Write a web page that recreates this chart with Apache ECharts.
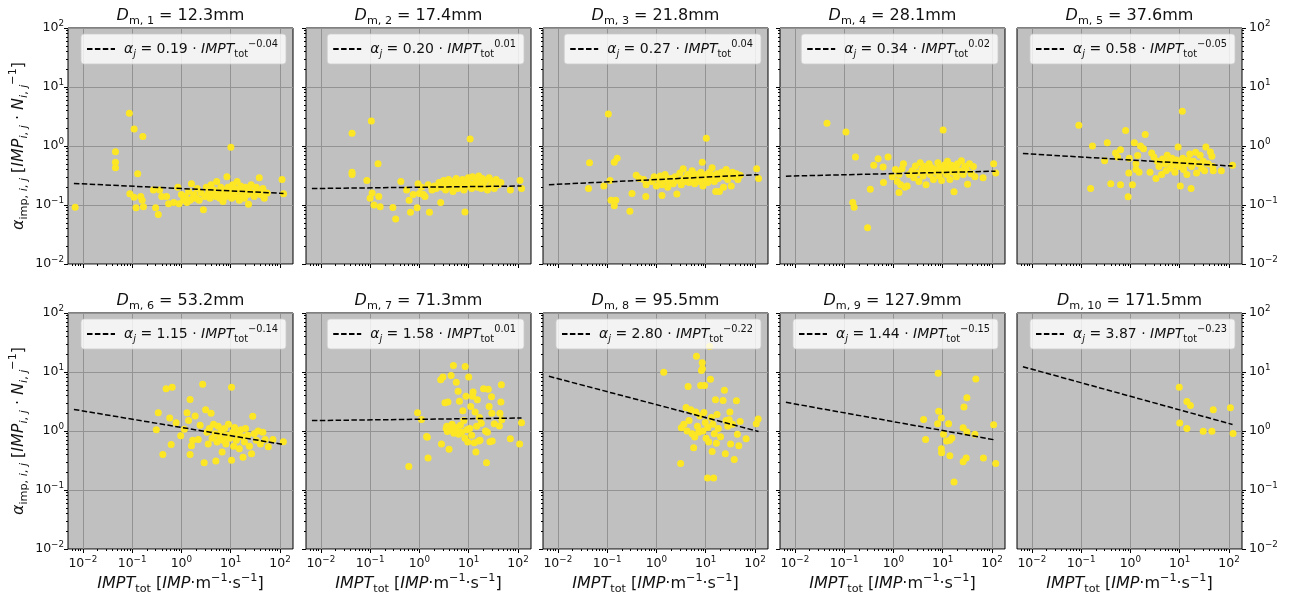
<!DOCTYPE html>
<html>
<head>
<meta charset="utf-8">
<script src="https://cdn.jsdelivr.net/npm/echarts@6/dist/echarts.min.js"></script>
<style>
  html, body { margin: 0; padding: 0; background: #fff; }
  #main { width: 1293px; height: 599px; }
</style>
</head>
<body>
<div id="main"></div>
<script>
// ---- data ----
const diameters = ['12.3', '17.4', '21.8', '28.1', '37.6', '53.2', '71.3', '95.5', '127.9', '171.5'];
const fitCoef = ['0.19', '0.20', '0.27', '0.34', '0.58', '1.15', '1.58', '2.80', '1.44', '3.87'];
const fitExp = ['−0.04', '0.01', '0.04', '0.02', '−0.05', '−0.14', '0.01', '−0.22', '−0.15', '−0.23'];
// fitted line end points (x from 0.0066 to 118)
const fitX = [0.0066, 118];
const fitY = [[0.232, 0.157], [0.190, 0.210], [0.221, 0.327], [0.308, 0.374], [0.745, 0.457],
              [2.32, 0.590], [1.50, 1.66], [8.45, 0.980], [3.06, 0.704], [12.3, 1.29]];
const majorTicks = [0.01, 0.1, 1, 10, 100];
const xRange = [0.00501, 183.7];
const yRange = [0.01, 100];

const pts1 = [[0.007,0.092],[0.088,3.6],[0.11,1.95],[0.165,1.45],[0.046,0.8],[0.046,0.53],[0.046,0.43],[0.13,0.34],
  [0.09,0.155],[0.11,0.135],[0.15,0.14],[0.16,0.12],[0.17,0.093],[0.12,0.09],[0.3,0.09],[0.34,0.069],[0.27,0.18],
  [0.36,0.18],[0.4,0.14],[0.5,0.14],[0.55,0.105],[0.7,0.11],[0.85,0.2],[0.9,0.105],[1.0,0.15],[1.1,0.12],[1.2,0.14],
  [1.3,0.11],[1.4,0.17],[1.5,0.12],[1.6,0.23],[1.7,0.13],[1.8,0.15],[2.0,0.13],[2.1,0.19],[2.3,0.12],[2.5,0.16],
  [2.8,0.083],[3.0,0.14],[3.2,0.2],[3.4,0.15],[3.6,0.17],[3.8,0.13],[4.0,0.22],[4.3,0.15],[4.6,0.18],[5.0,0.14],
  [5.2,0.25],[5.5,0.16],[6.0,0.13],[6.3,0.2],[6.8,0.16],[7.0,0.115],[7.5,0.18],[8.0,0.14],[8.4,0.3],[8.8,0.2],
  [9.2,0.15],[9.6,0.17],[10.1,0.95],[10.5,0.13],[11,0.22],[11.5,0.16],[12,0.19],[13,0.14],[13.5,0.25],[14,0.18],
  [15,0.12],[16,0.21],[17,0.15],[18,0.17],[19,0.13],[20,0.2],[22,0.15],[23,0.103],[24,0.18],[26,0.22],[28,0.16],
  [30,0.14],[33,0.2],[36,0.17],[38,0.29],[40,0.15],[45,0.19],[48,0.13],[55,0.16],[110,0.27],[118,0.155]];
const pts2 = [[0.043,1.64],[0.106,2.65],[0.145,0.5],[0.043,0.36],[0.043,0.33],[0.086,0.26],[0.11,0.16],[0.1,0.13],
  [0.15,0.14],[0.12,0.1],[0.16,0.093],[0.29,0.091],[0.33,0.058],[0.42,0.25],[0.55,0.18],[0.62,0.12],[0.66,0.075],
  [0.75,0.15],[0.9,0.09],[0.94,0.23],[1.0,0.156],[1.1,0.2],[1.2,0.15],[1.3,0.14],[1.5,0.22],[1.6,0.075],[1.8,0.18],
  [2.0,0.21],[2.2,0.19],[2.5,0.24],[2.7,0.11],[2.9,0.2],[3.1,0.26],[3.4,0.18],[3.6,0.22],[3.9,0.27],[4.2,0.2],
  [4.5,0.25],[4.8,0.17],[5.2,0.23],[5.6,0.28],[6.0,0.19],[6.5,0.24],[7.0,0.21],[7.5,0.27],[8.0,0.18],[8.4,0.076],
  [8.8,0.25],[9.3,0.21],[9.8,0.29],[10.7,1.31],[11,0.23],[11.5,0.19],[12,0.3],[13,0.22],[14,0.27],[15,0.2],
  [16,0.31],[17,0.24],[18,0.19],[19,0.28],[20,0.22],[22,0.26],[24,0.18],[26,0.29],[28,0.21],[30,0.25],[33,0.19],
  [36,0.27],[40,0.22],[45,0.24],[70,0.18],[110,0.26],[118,0.19]];
const pts3 = [[0.044,0.52],[0.042,0.19],[0.086,0.21],[0.106,3.47],[0.115,0.26],[0.14,0.53],[0.16,0.62],[0.12,0.12],
  [0.15,0.12],[0.14,0.097],[0.29,0.078],[0.32,0.156],[0.39,0.32],[0.45,0.28],[0.55,0.27],[0.61,0.14],[0.62,0.22],
  [0.8,0.25],[0.9,0.3],[1.0,0.21],[1.1,0.27],[1.2,0.31],[1.3,0.145],[1.3,0.22],[1.4,0.26],[1.5,0.33],[1.6,0.29],
  [1.7,0.2],[1.8,0.24],[2.0,0.28],[2.2,0.23],[2.4,0.3],[2.6,0.154],[2.8,0.26],[3.0,0.35],[3.2,0.22],[3.5,0.41],
  [3.7,0.28],[4.0,0.25],[4.3,0.33],[4.6,0.24],[5.0,0.3],[5.3,0.38],[5.6,0.27],[6.0,0.23],[6.4,0.33],[7.0,0.29],
  [7.5,0.25],[8.0,0.36],[8.5,0.53],[8.8,0.21],[9.2,0.31],[9.6,0.27],[10.3,1.35],[10.5,0.33],[11,0.24],[11.5,0.3],
  [12,0.36],[13,0.27],[13.5,0.43],[14,0.32],[15,0.25],[16,0.17],[17,0.34],[18,0.28],[19,0.17],[20,0.31],[21,0.36],
  [23,0.2],[24,0.3],[26,0.4],[28,0.27],[30,0.33],[33,0.21],[35,0.36],[38,0.3],[42,0.34],[45,0.27],[50,0.32],
  [108,0.41],[118,0.28]];
const pts4 = [[0.045,2.42],[0.109,1.72],[0.17,0.65],[0.15,0.11],[0.16,0.092],[0.3,0.041],[0.34,0.185],[0.4,0.47],
  [0.49,0.61],[0.62,0.44],[0.63,0.24],[0.78,0.65],[0.95,0.3],[1.1,0.4],[1.2,0.25],[1.3,0.163],[1.3,0.33],[1.4,0.22],
  [1.5,0.41],[1.6,0.5],[1.7,0.2],[1.9,0.21],[2.1,0.33],[2.4,0.38],[2.6,0.29],[2.8,0.46],[3.0,0.35],[3.3,0.25],
  [3.5,0.52],[3.8,0.4],[4.0,0.31],[4.3,0.45],[4.6,0.22],[5.0,0.38],[5.3,0.5],[5.6,0.33],[6.0,0.43],[6.5,0.27],
  [7.0,0.4],[7.5,0.36],[8.0,0.52],[8.5,0.31],[9.0,0.44],[9.5,0.26],[10.2,1.86],[10.5,0.38],[11,0.48],[12,0.33],
  [12.5,0.55],[13,0.42],[14,0.27],[15,0.47],[16,0.36],[17,0.167],[18,0.43],[19,0.3],[20,0.5],[22,0.38],[24,0.56],
  [26,0.33],[28,0.45],[30,0.4],[32,0.225],[35,0.5],[38,0.34],[42,0.45],[45,0.3],[66,0.29],[108,0.5],[119,0.35]];
const pts5 = [[0.09,2.24],[0.156,0.19],[0.17,1.0],[0.3,0.56],[0.34,1.14],[0.4,0.23],[0.5,0.76],[0.55,0.65],[0.63,0.86],
  [0.63,0.22],[0.8,1.84],[0.9,0.138],[0.93,0.35],[0.95,0.62],[1.1,0.22],[1.2,1.14],[1.3,0.5],[1.3,0.4],[1.4,0.69],
  [1.5,0.36],[1.6,1.0],[1.85,0.9],[2.0,1.57],[2.5,0.36],[2.7,0.76],[3.0,0.65],[3.3,0.28],[3.5,0.55],[3.8,0.45],
  [4.3,0.33],[4.5,0.6],[5.0,0.5],[5.3,0.38],[5.6,0.7],[6.0,0.55],[6.5,0.42],[7.0,0.62],[7.5,0.48],[8.0,0.36],
  [8.5,0.58],[9.3,0.96],[9.5,0.45],[10.3,0.21],[10.5,0.52],[11.3,3.9],[11.5,0.62],[12,0.4],[13,0.5],[14,0.33],
  [15,0.58],[16,0.73],[17,0.19],[17.5,0.45],[19,0.55],[21,0.78],[22,0.35],[24,0.5],[26,0.7],[28,0.42],[30,0.55],
  [32,0.38],[34,0.96],[38,0.5],[42,0.79],[45,0.67],[47,0.45],[48,0.38],[70,0.38],[118,0.47]];
const pts6 = [[0.31,1.05],[0.34,2.04],[0.42,0.4],[0.49,5.2],[0.65,5.5],[0.58,1.66],[0.62,0.59],[0.78,1.38],[0.97,0.83],
  [1.15,1.07],[1.3,2.04],[1.4,1.5],[1.5,3.43],[1.5,0.4],[1.6,0.56],[1.7,0.7],[1.9,1.8],[2.2,0.72],[2.4,1.25],[2.7,6.2],
  [2.9,0.29],[3.1,2.3],[3.3,0.95],[3.5,0.6],[3.7,1.1],[4.0,1.99],[4.2,0.75],[4.5,1.3],[4.8,0.9],[5.0,0.31],[5.3,0.65],
  [5.6,1.2],[6.0,0.8],[6.4,1.0],[6.7,0.44],[7.0,0.7],[7.5,1.1],[8.0,0.6],[8.5,0.85],[9.0,1.3],[9.5,0.75],[10.4,5.5],
  [10.4,0.32],[11,0.95],[11.5,0.55],[12,1.15],[13,0.7],[14,0.9],[15,0.5],[16,1.05],[17,0.8],[17.8,0.36],[19,0.65],
  [20,1.1],[22,0.85],[24,0.55],[26.5,0.41],[28,1.77],[30,0.9],[33,0.7],[36,1.0],[40,0.6],[45,0.95],[50,0.72],
  [58,0.54],[72,0.72],[117,0.66]];
const pts7 = [[0.61,0.25],[0.92,2.04],[1.1,1.57],[1.4,0.81],[1.45,0.78],[1.5,0.35],[2.7,7.4],[2.8,0.6],[3.0,8.2],
  [3.3,3.0],[3.5,1.1],[3.6,1.2],[3.7,0.98],[3.8,3.1],[4.0,0.49],[4.2,1.05],[4.4,8.7],[4.6,1.3],[4.9,12.9],[5.0,0.92],
  [5.3,1.15],[5.6,6.7],[5.8,1.0],[6.1,4.7],[6.3,0.88],[6.5,3.2],[6.8,1.25],[7.2,0.95],[7.6,2.2],[8.0,1.5],[8.4,0.75],
  [8.5,12.4],[8.8,3.9],[9.2,1.05],[9.6,0.65],[10.0,8.2],[10.5,1.1],[11,2.6],[11.5,0.85],[12,3.9],[12.3,4.6],[13,0.63],
  [13.5,2.1],[14,0.44],[14.5,1.2],[15,3.4],[16,0.68],[16.5,1.7],[17,0.7],[18,1.35],[20,5.2],[22,1.0],[23,0.29],
  [24,0.95],[25,5.1],[26,2.6],[27,0.66],[29,3.8],[29.5,2.0],[30,0.68],[33,1.33],[42,1.22],[43,2.0],[45,3.1],[46,6.1],
  [47,1.55],[70,0.74],[108,0.6],[118,1.38]];
const pts8 = [[1.41,9.9],[3.2,1.14],[3.1,0.28],[3.6,1.3],[4.0,2.5],[4.2,1.0],[4.4,5.7],[4.6,1.5],[5.0,2.3],[5.3,0.9],
  [5.7,0.52],[6.0,0.79],[6.3,2.1],[6.5,18.5],[6.8,1.2],[7.2,0.95],[7.6,1.8],[7.9,5.9],[8.2,10.6],[8.5,14.3],[8.6,11.3],
  [8.8,1.0],[9.2,2.05],[9.5,5.9],[9.8,1.4],[10.2,0.75],[10.9,0.16],[11,1.15],[11.5,0.65],[12,27],[12.5,7.5],[13,1.7],
  [13.5,0.45],[14,1.3],[14.5,0.16],[15,0.9],[15.8,3.4],[16.5,0.62],[17,1.9],[18,1.1],[20,0.8],[22.5,3.3],[24,4.9],
  [25,0.41],[26,1.5],[28,1.2],[30,1.55],[31,2.1],[32,0.6],[35,1.3],[38,0.33],[42,3.25],[44,0.88],[47,0.56],[50,1.45],
  [66,0.74],[106,1.33],[116,1.6]];
const pts9 = [[4.1,1.57],[4.5,0.72],[7.9,1.33],[8.1,9.5],[8.3,2.17],[9.4,1.66],[9.4,0.5],[9.5,0.43],[10.4,0.88],
  [12,0.68],[13.2,1.33],[14,0.7],[14,0.38],[15.4,0.76],[17,0.137],[26,1.14],[26,0.3],[27,2.55],[30,0.35],[31,3.66],
  [31,0.96],[45,0.88],[47,7.6],[67,0.35],[108,1.28],[119,0.28]];
const pts10 = [[9.8,5.5],[10,1.36],[14,3.17],[14,1.1],[16.5,2.7],[30,0.99],[45,0.99],[48,2.29],[107,2.48],[121,0.91]];
const allPts = [pts1, pts2, pts3, pts4, pts5, pts6, pts7, pts8, pts9, pts10];

// ---- layout / style ----
const FONT = 'DejaVu Sans';
const INK = '#111';
const W = 1293;
const colLeft = [68, 306, 543, 780, 1017];
const rowTop = [28, 313];
const gw = 225, gh = 236;

function richSet(size, subShift, supShift) {
  const LH = Math.round(size * 1.4), small = size * 0.7;
  const base = { fontFamily: FONT, fontSize: size, fontWeight: 'normal', color: INK, lineHeight: LH };
  const sb = { fontFamily: FONT, fontSize: small, fontWeight: 'normal', color: INK,
               verticalAlign: 'bottom', lineHeight: LH - 2 * subShift };
  const sp = { fontFamily: FONT, fontSize: small, fontWeight: 'normal', color: INK,
               verticalAlign: 'top', lineHeight: LH - 2 * supShift };
  return {
    n: base, i: Object.assign({}, base, { fontStyle: 'italic' }),
    a: Object.assign({}, base, { fontStyle: 'italic', padding: [0, 0, 0, 4] }),
    s: sb, si: Object.assign({}, sb, { fontStyle: 'italic' }),
    p: sp
  };
}
const titleRich = richSet(16, 3.8, 6);
const legendRich = richSet(14, 2.6, 6);
const nameRich = richSet(16, 3.5, 5.5);
const tickRich = richSet(12.5, 3, 4.3);

function powLabel(v) {
  const l = Math.log10(v), e = Math.round(l);
  if (Math.abs(l - e) > 1e-6) return '';
  return '{n|10}{p|' + (e < 0 ? '−' + (-e) : e) + '}';
}
function minorValues(lo, hi) {
  const out = [];
  for (let e = -3; e <= 2; e++) {
    for (let m = 2; m <= 9; m++) {
      const v = +(m * Math.pow(10, e)).toPrecision(3);
      if (v > lo && v < hi) out.push(v);
    }
  }
  return out;
}
const xMinor = minorValues(xRange[0], xRange[1]);
const yMinor = minorValues(yRange[0], yRange[1]);

const xName = '{i|IMPT}{s|tot}{n| [}{i|IMP}{n|·m}{p|−1}{n|·s}{p|−1}{n|]}';
const yName = '{i|α}{s|imp, }{si|i}{s|, }{si|j}{n| [}{i|IMP}{si|i}{s|, }{si|j}{n| · }{i|N}{si|i}{s|, }{si|j}{p|−1}{n|]}';

const option = {
  animation: false,
  backgroundColor: '#fff',
  title: [], legend: [], grid: [], xAxis: [], yAxis: [], series: []
};

const N = allPts.length;
for (let k = 0; k < N; k++) {
  const r = Math.floor(k / 5), c = k % 5;
  const left = colLeft[c], top = rowTop[r];

  option.grid.push({
    left: left, top: top, width: gw, height: gh, show: true,
    backgroundColor: '#c0c0c0', borderColor: '#000', borderWidth: 1
  });

  option.title.push({
    text: '{i|D}{s|m, ' + (k + 1) + '}{n| = ' + diameters[k] + 'mm}',
    left: left + gw / 2, top: top - 23, textAlign: 'center', padding: 0,
    textStyle: { fontWeight: 'normal', fontFamily: FONT, fontSize: 16, rich: titleRich }
  });

  const legendText = '{a|α}{si|j}{n| = ' + fitCoef[k] + ' · }{i|IMPT}{s|tot}{p|' + fitExp[k] + '}';
  option.legend.push({
    data: ['fit' + k],
    right: W - (left + gw) + 7, top: top + 6,
    orient: 'horizontal',
    backgroundColor: 'rgba(255,255,255,0.8)',
    borderColor: 'rgba(204,204,204,0.8)', borderWidth: 1, borderRadius: 3,
    padding: [5, 8, 5, 5],
    itemWidth: 28, itemHeight: 14,
    selectedMode: false,
    itemStyle: { opacity: 0 },
    formatter: function () { return legendText; },
    textStyle: { rich: legendRich }
  });

  // main axes
  option.xAxis.push({
    type: 'log', gridIndex: k, min: xRange[0], max: xRange[1], position: 'bottom',
    axisLine: { show: false },
    axisTick: { show: true, length: 4, customValues: majorTicks, lineStyle: { color: '#000' } },
    axisLabel: { show: r === 1, customValues: majorTicks, formatter: powLabel, margin: 6, rich: tickRich },
    splitLine: { show: true, lineStyle: { color: '#939393', width: 1 } },
    name: r === 1 ? xName : '', nameLocation: 'middle', nameGap: 24,
    nameTextStyle: { rich: nameRich }
  });
  option.yAxis.push({
    type: 'log', gridIndex: k, min: yRange[0], max: yRange[1], position: c === 4 ? 'right' : 'left',
    axisLine: { show: false },
    axisTick: { show: true, length: 4, customValues: majorTicks, lineStyle: { color: '#000' } },
    axisLabel: { show: c === 0 || c === 4, customValues: majorTicks, formatter: powLabel,
                 margin: c === 4 ? 7 : 4, rich: tickRich },
    splitLine: { show: true, lineStyle: { color: '#939393', width: 1 } },
    name: c === 0 ? yName : '', nameLocation: 'middle', nameRotate: 90, nameGap: 38,
    nameTextStyle: { rich: nameRich }
  });

  option.series.push({
    type: 'scatter', name: 'pts' + k, xAxisIndex: k, yAxisIndex: k,
    data: allPts[k], symbolSize: 7, silent: true,
    itemStyle: { color: '#fde725', opacity: 1 }, z: 2
  });
  option.series.push({
    type: 'line', name: 'fit' + k, xAxisIndex: k, yAxisIndex: k,
    data: [[fitX[0], fitY[k][0]], [fitX[1], fitY[k][1]]],
    symbol: 'none', silent: true, z: 3,
    lineStyle: { color: '#000', width: 1.5, type: [5.5, 2.4] },
    itemStyle: { color: '#000' }
  });
}

// minor tick axes
for (let k = 0; k < N; k++) {
  const c = k % 5;
  option.xAxis.push({
    type: 'log', gridIndex: k, min: xRange[0], max: xRange[1], position: 'bottom',
    axisLine: { show: false }, axisLabel: { show: false }, splitLine: { show: false },
    axisTick: { show: true, length: 2, customValues: xMinor, lineStyle: { color: '#000' } }
  });
  option.yAxis.push({
    type: 'log', gridIndex: k, min: yRange[0], max: yRange[1], position: c === 4 ? 'right' : 'left',
    axisLine: { show: false }, axisLabel: { show: false }, splitLine: { show: false },
    axisTick: { show: true, length: 2, customValues: yMinor, lineStyle: { color: '#000' } }
  });
}

const myChart = echarts.init(document.getElementById('main'));
myChart.setOption(option);
</script>
</body>
</html>
